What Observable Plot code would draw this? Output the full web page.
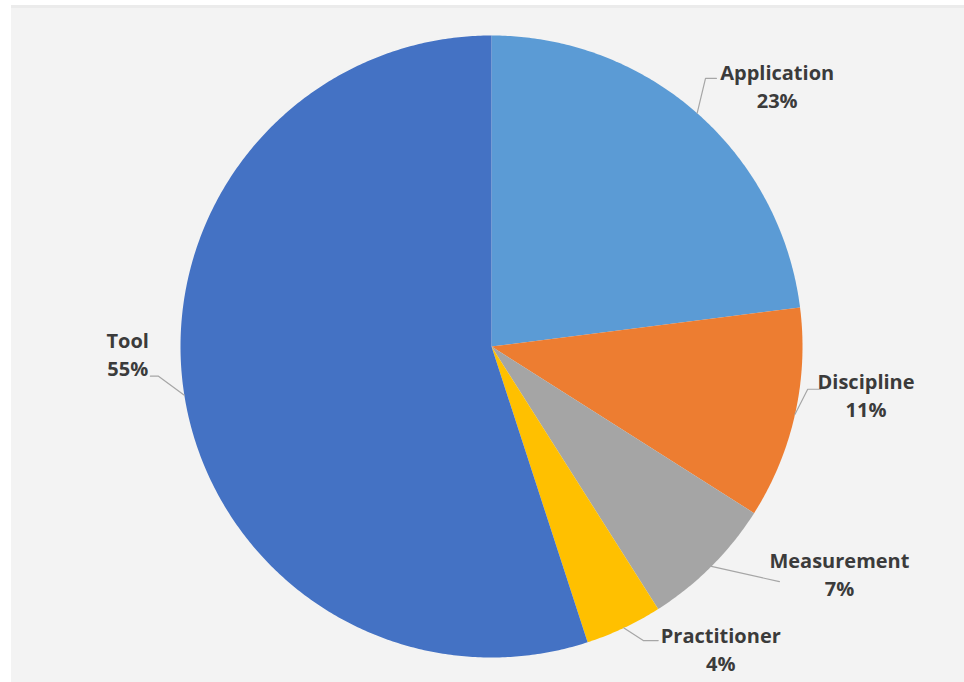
<!DOCTYPE html>
<html>
<head>
<meta charset="utf-8">
<script src="https://cdn.jsdelivr.net/npm/d3@7"></script>
<script src="https://cdn.jsdelivr.net/npm/@observablehq/plot@0.6"></script>
<style>
  html, body { margin: 0; padding: 0; background: #ffffff; }
  #wrap { position: relative; width: 964px; height: 682px; overflow: hidden; }
  #panel { position: absolute; left: 11px; top: 5px; right: 0; bottom: 0; background: #f3f3f3; border-top: 3px solid #ebebeb; }
  #chart { position: absolute; left: 0; top: 0; }
</style>
</head>
<body>
<div id="wrap"><div id="panel"></div><div id="chart"></div></div>
<script>
// ---- data ----
const categories = ["Application", "Discipline", "Measurement", "Practitioner", "Tool"];
const shares = [23, 11, 7, 4, 55];
const colors = ["#5B9BD5", "#ED7D31", "#A5A5A5", "#FFC000", "#4472C4"];

// ---- label layout (polar: angle deg clockwise from north, radius in pie radii) ----
const labelAngle = [47.8, 97.6, 123.4, 143.0, 268.6];
const labelRadius = [1.24, 1.215, 1.34, 1.225, 1.17];
// leader: elbow (polar) and horizontal end offset in pie radii
const elbowAngle = [38.6, 97.7, 133.7, 152.7, 264.9];
const elbowRadius = [1.103, 1.026, 1.08, 1.064, 1.075];
const endDx = [0.035, 0.042, 0.145, 0.048, -0.026];

// ---- geometry ----
const R = 311, cx = 491, cy = 346, W = 964, H = 682;
const total = d3.sum(shares);
const toRad = Math.PI / 180;
const polar = (deg, r) => [r * Math.sin(deg * toRad), r * Math.cos(deg * toRad)];

let acc = 0;
const slices = categories.map((c, i) => {
  const a0 = acc / total * 360;
  acc += shares[i];
  const a1 = acc / total * 360;
  return {name: c, value: shares[i], a0, a1, mid: (a0 + a1) / 2};
});

const polyPts = [];
slices.forEach(s => {
  polyPts.push({name: s.name, x: 0, y: 0});
  const n = Math.max(2, Math.ceil((s.a1 - s.a0) / 0.5));
  for (let k = 0; k <= n; k++) {
    const [x, y] = polar(s.a0 + (s.a1 - s.a0) * k / n, 1);
    polyPts.push({name: s.name, x, y});
  }
  polyPts.push({name: s.name, x: 0, y: 0});
});

const leaderPts = [];
slices.forEach((s, i) => {
  const [x0, y0] = polar(s.mid, 1);
  const [x1, y1] = polar(elbowAngle[i], elbowRadius[i]);
  leaderPts.push({name: s.name, x: x0, y: y0});
  if (s.name === "Measurement") {
    leaderPts.push({name: s.name, x: x1 + endDx[i], y: y1 - 0.01});
  } else {
    leaderPts.push({name: s.name, x: x1, y: y1});
    leaderPts.push({name: s.name, x: x1 + endDx[i], y: y1});
  }
});

const labels = slices.map((s, i) => {
  const [x, y] = polar(labelAngle[i], labelRadius[i]);
  return {name: s.name, pct: s.value + "%", x, y};
});

const plot = Plot.plot({
  width: W, height: H,
  margin: 0,
  style: {background: "transparent", overflow: "visible"},
  x: {type: "linear", domain: [-cx / R, (W - cx) / R], range: [0, W], axis: null},
  y: {type: "linear", domain: [cy / R, -(H - cy) / R], range: [0, H], axis: null},
  color: {domain: categories, range: colors},
  marks: [
    Plot.line(polyPts, {x: "x", y: "y", z: "name", fill: "name", stroke: "none", curve: "linear"}),
    Plot.line(leaderPts, {x: "x", y: "y", z: "name", stroke: "#a6a6a6", strokeWidth: 1.2}),
    Plot.text(labels, {x: "x", y: "y", text: "name", dy: -14, fontSize: 20, fontWeight: "bold", fill: "#3b3b3b", fontFamily: "Open Sans"}),
    Plot.text(labels, {x: "x", y: "y", text: "pct", dy: 14, fontSize: 20, fontWeight: "bold", fill: "#3b3b3b", fontFamily: "Open Sans"})
  ]
});
document.getElementById("chart").appendChild(plot);
</script>
</body>
</html>
